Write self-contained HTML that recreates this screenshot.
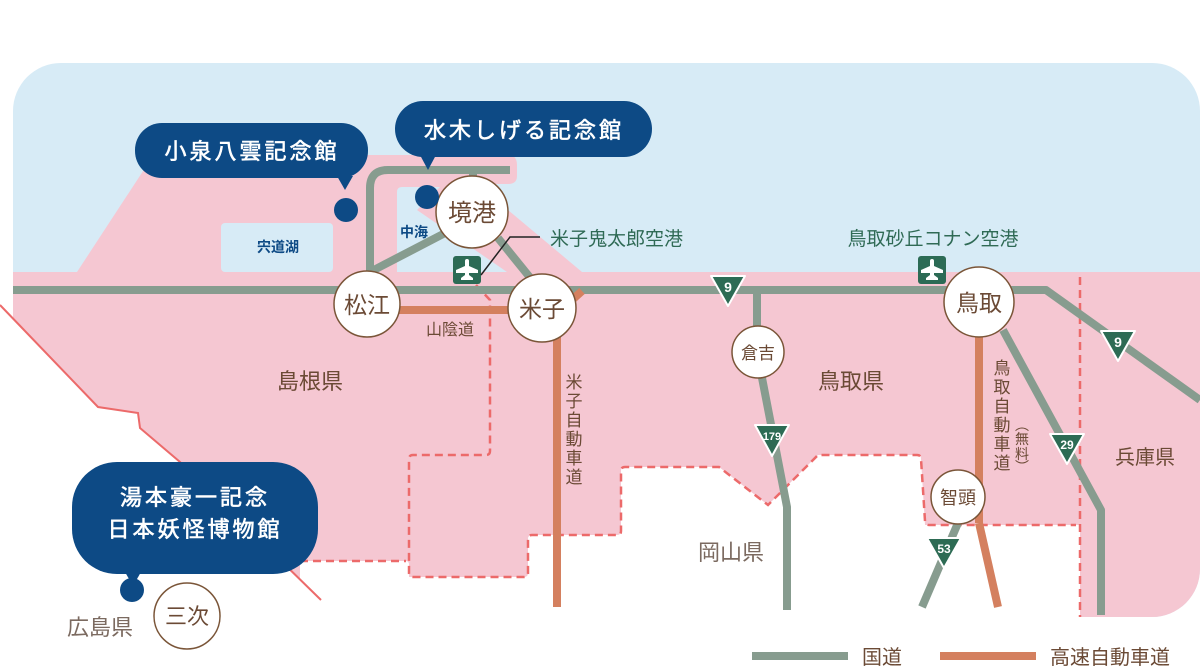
<!DOCTYPE html>
<html><head><meta charset="utf-8"><style>
html,body{margin:0;padding:0;background:#fff;}
svg{display:block;}
text{font-family:"Liberation Sans","Noto Sans CJK JP",sans-serif;}
</style></head><body>
<svg width="1200" height="671" viewBox="0 0 1200 671" xmlns="http://www.w3.org/2000/svg">
<defs>
<clipPath id="frame"><rect x="13" y="63" width="1187" height="554" rx="48"/></clipPath>
<g id="plane" fill="#fff">
<rect x="-2" y="-11" width="4" height="21" rx="2"/>
<polygon points="-11,3 11,3 11,0 2,-4 -2,-4 -11,0"/>
<polygon points="-6,10 6,10 6,8 2,5 -2,5 -6,8"/>
</g>
</defs>
<g clip-path="url(#frame)">
<rect x="0" y="0" width="1200" height="671" fill="#d7ebf6"/>
<rect x="0" y="272" width="1200" height="400" fill="#f5c7d2"/>
<path d="M77,272 L147,165 Q150,155 160,155 L508,155 Q517,155 517,165 L517,176 Q517,184 508,184 L477,184 L582,272 Z" fill="#f5c7d2"/>
<rect x="221" y="223" width="112" height="49" rx="4" fill="#d7ebf6"/>
<path d="M397,192 Q397,187 402,187 L440,187 L417,210 L507,272 L397,272 Z" fill="#d7ebf6"/>
</g>
<path d="M0,305 L98,407 L138,413 L140,428 L180,462 L300,580 L300,561 L406,561 Q409,561 409,565 L409,577 L524,577 Q528,577 528,573 L528,539 Q528,535 532,535 L617,535 Q621,535 621,531 L621,471 Q621,467 625,467 L719,467 L768,505 L818,455 L917,455 Q921,455 921,459 L925,525 L1080,525 L1080,671 L0,671 Z" fill="#fff"/>
<rect x="1080" y="617" width="120" height="54" fill="#fff"/>
<polyline points="0,305 98,407 138,413 140,428 180,462 321,600" fill="none" stroke="#ec6a6a" stroke-width="2"/>
<g fill="none" stroke="#ec6a6a" stroke-width="2.5" stroke-dasharray="8,5">
<path d="M476,285 L490,300 L490,451 Q490,455 486,455 L413,455 Q409,455 409,459 L409,573 Q409,577 413,577 L524,577 Q528,577 528,573 L528,539 Q528,535 532,535 L617,535 Q621,535 621,531 L621,471 Q621,467 625,467 L719,467 L768,505 L818,455 L917,455 Q921,455 921,459 L925,521 Q925,525 929,525 L1076,525"/>
<path d="M300,561 L406,561"/>
<path d="M1080,277 L1080,617"/>
</g>
<g fill="none" stroke="#879c8f" stroke-width="8" stroke-linejoin="round">
<polyline points="13,290 1046,290 1200,400"/>
<path d="M370,290 L370,188 Q370,170 388,170 L510,170"/>
<line x1="473" y1="170" x2="473" y2="185"/>
<line x1="370" y1="272" x2="447" y2="232"/>
<line x1="498" y1="238" x2="532" y2="280"/>
<polyline points="757,290 757,352 787,507 787,610"/>
<polyline points="1003,330 1101,510 1101,615"/>
<line x1="958" y1="523" x2="922" y2="607"/>
</g>
<g fill="none" stroke="#d4805f" stroke-width="8">
<line x1="390" y1="310" x2="512" y2="310"/>
<line x1="557" y1="330" x2="557" y2="607"/>
<line x1="572" y1="300" x2="582" y2="291"/>
<line x1="979" y1="337" x2="979" y2="523"/>
<line x1="979" y1="523" x2="998" y2="607"/>
</g>
<g font-weight="bold" fill="#fff" text-anchor="middle">
<path d="M711,276 L745,276 L728,306 Z" fill="#2d6b54" stroke="#fff" stroke-width="2" stroke-linejoin="round"/>
<text x="728" y="292" font-size="14">9</text>
<path d="M1101,331 L1135,331 L1118,361 Z" fill="#2d6b54" stroke="#fff" stroke-width="2" stroke-linejoin="round"/>
<text x="1118" y="347" font-size="14">9</text>
<path d="M755,425 L789,425 L772,456 Z" fill="#2d6b54" stroke="#fff" stroke-width="2" stroke-linejoin="round"/>
<text x="772" y="440" font-size="11">179</text>
<path d="M1050,434 L1084,434 L1067,464 Z" fill="#2d6b54" stroke="#fff" stroke-width="2" stroke-linejoin="round"/>
<text x="1067" y="449" font-size="12">29</text>
<path d="M927,538 L961,538 L944,568 Z" fill="#2d6b54" stroke="#fff" stroke-width="2" stroke-linejoin="round"/>
<text x="944" y="553" font-size="12">53</text>
</g>
<rect x="453" y="256" width="28" height="28" rx="3" fill="#2c6b55"/>
<use href="#plane" x="467" y="270"/>
<rect x="918" y="256" width="28" height="28" rx="3" fill="#2c6b55"/>
<use href="#plane" x="932" y="270"/>
<polyline points="481,275 510,237 540,237" fill="none" stroke="#222" stroke-width="1.5"/>
<text x="550" y="245" font-size="19" fill="#2f6a55">米子鬼太郎空港</text>
<text x="933" y="245" font-size="19" fill="#2f6a55" text-anchor="middle">鳥取砂丘コナン空港</text>
<g fill="#fff" stroke="#7a5538" stroke-width="1.5">
<circle cx="472" cy="212" r="36"/>
<circle cx="367" cy="304" r="33"/>
<circle cx="542" cy="308" r="34"/>
<circle cx="758" cy="352" r="26"/>
<circle cx="979" cy="302" r="35"/>
<circle cx="958" cy="497" r="27"/>
<circle cx="187" cy="616" r="33"/>
</g>
<g fill="#6b4a35" text-anchor="middle">
<text x="472" y="221" font-size="24">境港</text>
<text x="367" y="313" font-size="23">松江</text>
<text x="542" y="317" font-size="23">米子</text>
<text x="758" y="359" font-size="17">倉吉</text>
<text x="979" y="311" font-size="23">鳥取</text>
<text x="958" y="504" font-size="18">智頭</text>
<text x="187" y="624" font-size="22">三次</text>
<text x="310" y="389" font-size="22">島根県</text>
<text x="851" y="389" font-size="22">鳥取県</text>
<text x="1145" y="464" font-size="20">兵庫県</text>
<text x="731" y="560" font-size="22" fill="#7b6a60">岡山県</text>
<text x="100" y="635" font-size="22" fill="#7b6a60">広島県</text>
<text x="450" y="335" font-size="16">山陰道</text>
<g font-size="17">
<text x="574" y="388">米</text><text x="574" y="407">子</text><text x="574" y="426">自</text><text x="574" y="445">動</text><text x="574" y="464">車</text><text x="574" y="483">道</text>
<text x="1002" y="374">鳥</text><text x="1002" y="393">取</text><text x="1002" y="412">自</text><text x="1002" y="431">動</text><text x="1002" y="450">車</text><text x="1002" y="469">道</text>
</g>
<g font-size="14">
<text x="1022" y="430">︵</text><text x="1022" y="444">無</text><text x="1022" y="459">料</text><text x="1022" y="472">︶</text>
</g>
</g>
<text x="278" y="252" font-size="14" font-weight="bold" fill="#0d4a85" text-anchor="middle">宍道湖</text>
<text x="414" y="237" font-size="14" font-weight="bold" fill="#0d4a85" text-anchor="middle">中海</text>
<g fill="#0d4a85">
<rect x="135" y="123" width="233" height="55" rx="27"/>
<path d="M337,176 L353,176 L345,190 Z"/>
<circle cx="346" cy="210" r="12"/>
<rect x="395" y="101" width="257" height="56" rx="28"/>
<path d="M420,155 L436,155 L428,170 Z"/>
<circle cx="427" cy="197" r="12"/>
<rect x="72" y="462" width="246" height="112" rx="45"/>
<path d="M125,572 L141,572 L133,586 Z"/>
<circle cx="132" cy="590" r="12"/>
</g>
<g fill="#fff" stroke="#fff" stroke-width="0.6" text-anchor="middle" font-size="22" letter-spacing="3">
<text x="252" y="159">小泉八雲記念館</text>
<text x="524" y="138">水木しげる記念館</text>
<text x="195" y="505">湯本豪一記念</text>
<text x="195" y="537">日本妖怪博物館</text>
</g>
<line x1="752" y1="656" x2="848" y2="656" stroke="#879c8f" stroke-width="8"/>
<text x="862" y="664" font-size="20" fill="#6b4a35">国道</text>
<line x1="940" y1="656" x2="1036" y2="656" stroke="#d4805f" stroke-width="8"/>
<text x="1050" y="664" font-size="20" fill="#6b4a35">高速自動車道</text>
</svg>
</body></html>
